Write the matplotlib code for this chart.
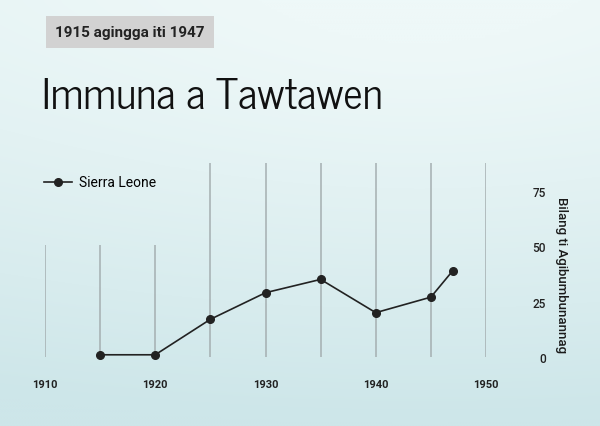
import numpy as np
import matplotlib as mpl
mpl.use('Agg')
import matplotlib.pyplot as plt
from matplotlib.colors import to_rgb

# data
years = [1915, 1920, 1925, 1930, 1935, 1940, 1945, 1947]
counts = [1, 1, 17, 29, 35, 20, 27, 39]
series_name = 'Sierra Leone'
x_ticks = [1910, 1920, 1930, 1940, 1950]
grid_years = [1910, 1915, 1920, 1925, 1930, 1935, 1940, 1945, 1950]
y_ticks = [0, 25, 50, 75]
title = 'Immuna a Tawtawen'
subtitle = '1915 agingga iti 1947'
y_label = 'Bilang ti Agibumbunannag'

plt.rcParams['font.family'] = ['Roboto', 'DejaVu Sans']
title_font = ['News Cycle', 'Roboto', 'DejaVu Sans']

W, H = 600, 427
fig = plt.figure(figsize=(W / 100, H / 100), dpi=100)

# soft gradient background, as a function of figure coords
top_c = np.array(to_rgb('#eef8f8'))
bot_c = np.array(to_rgb('#cde6e9'))
def bg_color(fx, fy):
    t = np.clip(1 - fy, 0, 1) ** 1.3
    r = np.hypot(fx - 0.7, fy - 1.05)
    t = np.clip(0.75 * t + 0.35 * r - 0.1, 0, 1)
    return top_c * (1 - t) + bot_c * t

def bg_image(fx0, fx1, fy0, fy1, nx=120, ny=90):
    gx, gy = np.meshgrid(np.linspace(fx0, fx1, nx), np.linspace(fy1, fy0, ny))
    return bg_color(gx[..., None], gy[..., None])

bg = fig.add_axes([0, 0, 1, 1], zorder=-10)
bg.imshow(bg_image(0, 1, 0, 1, 200, 150), aspect='auto', extent=[0, 1, 0, 1],
          interpolation='bicubic')
bg.axis('off')

# main axes
ax = fig.add_axes([45 / W, (H - 358) / H, 441 / W, 194 / H])
ax.patch.set_alpha(0)
xlim, ylim = (1910, 1950), (0, 87.5)
ax.set_xlim(*xlim)
ax.set_ylim(*ylim)
for s in ax.spines.values():
    s.set_visible(False)

for g in grid_years:
    ax.axvline(g, color='#a5afb1', lw=1.3, alpha=0.85, zorder=1)

ax.plot(years, counts, color='#222222', lw=1.2, marker='o', ms=5.5,
        label=series_name, zorder=3, clip_on=False)

ax.set_xticks(x_ticks)
ax.set_xticklabels([str(x) for x in x_ticks], fontsize=8, fontweight='bold', color='#222222')
ax.tick_params(axis='x', length=0, pad=16)

ax.yaxis.tick_right()
ax.set_yticks(y_ticks)
ax.set_yticklabels([str(y) for y in y_ticks], fontsize=8.5, fontweight='medium',
                   color='#222222', ha='right')
ax.tick_params(axis='y', length=0, pad=43)
ax.yaxis.set_label_position('right')
ax.set_ylabel(y_label, rotation=270, fontsize=9.5, fontweight='medium', color='#1a1a1a')
ax.yaxis.set_label_coords(1.185, 0.43)

leg = ax.legend(loc='center left', bbox_to_anchor=(-0.015, 0.9), frameon=False,
                fontsize=10, handlelength=2.0, handletextpad=0.5,
                borderpad=0.4, borderaxespad=0)
leg.set_zorder(5)

fig.text(42 / W, 1 - 109.5 / H, title, fontsize=30.5, color='#111111', va='baseline',
         ha='left', family=title_font)
fig.text(55 / W, 1 - 33 / H, subtitle, fontsize=11, fontweight='bold', color='#222222',
         va='center', ha='left',
         bbox=dict(boxstyle='square,pad=0.6', facecolor='#d2d2d2', edgecolor='none'))

# the legend area sits on a patch of background that hides the grid behind it
fig.canvas.draw()
bb = leg.get_window_extent()
to_data = ax.transData.inverted()
(mx0, my0) = to_data.transform((bb.x0 - 10, bb.y0 - 50))
(mx1, _) = to_data.transform((bb.x1 + 15, bb.y1))
my1 = ylim[1]
to_fig = fig.transFigure.inverted()
fx0, fy0 = to_fig.transform(ax.transData.transform((mx0, my0)))
fx1, fy1 = to_fig.transform(ax.transData.transform((mx1, my1)))
ax.imshow(bg_image(fx0, fx1, fy0, fy1), extent=[mx0, mx1, my0, my1], aspect='auto',
          interpolation='bicubic', zorder=2, clip_on=False)
ax.set_xlim(*xlim)
ax.set_ylim(*ylim)

fig.savefig('out.png', dpi=100)
